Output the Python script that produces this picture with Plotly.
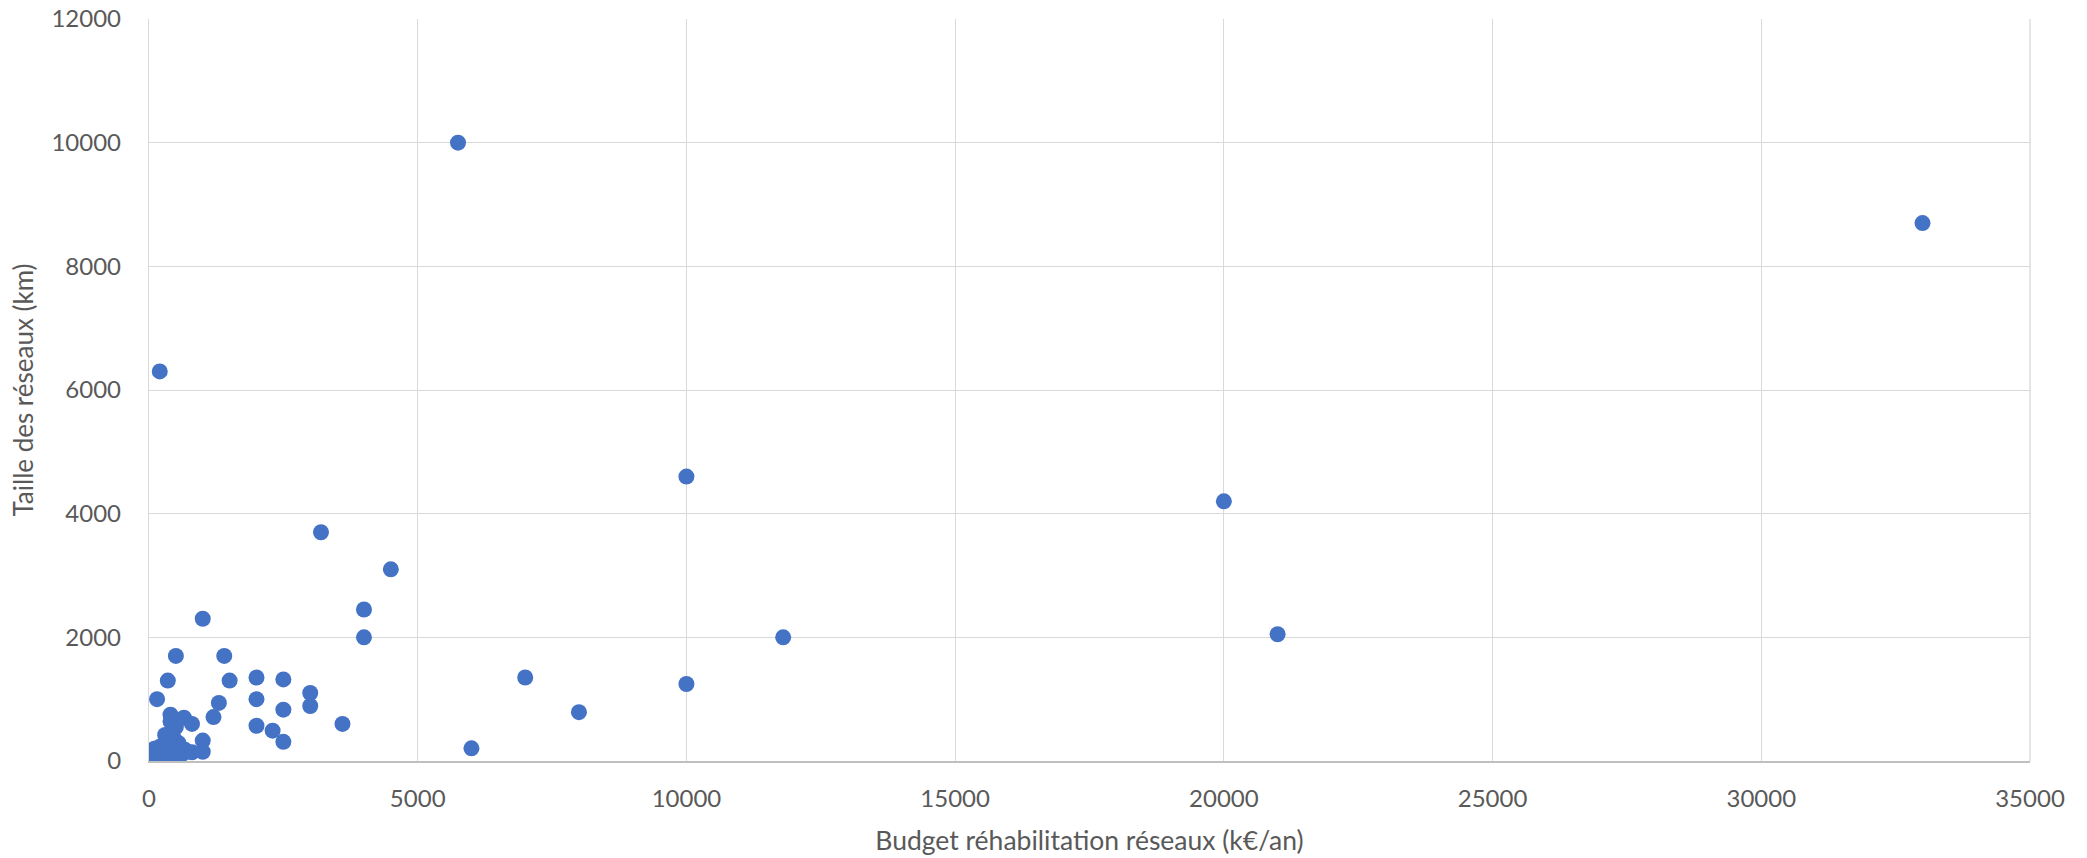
import plotly.graph_objects as go

budget = [50, 100, 150, 150, 200, 200, 250, 300, 300, 350, 360, 400, 400, 420, 450, 450,
          485, 500, 500, 520, 550, 580, 600, 650, 670, 700, 800, 800, 1000, 1000, 1000,
          1200, 1300, 1400, 1500, 2000, 2000, 2000, 2300, 2500, 2500, 2500, 3000, 3000,
          3200, 3600, 4000, 4000, 4500, 5750, 6000, 7000, 8000, 10000, 10000, 11800,
          20000, 21000, 33000]
taille = [100, 200, 1000, 120, 6300, 230, 100, 420, 60, 1300, 180, 750, 640, 150, 390, 60,
          100, 1700, 550, 130, 290, 220, 100, 700, 180, 150, 600, 140, 2300, 330, 150,
          710, 940, 1700, 1300, 1350, 1000, 570, 490, 1320, 830, 310, 1100, 890,
          3700, 600, 2450, 2000, 3100, 10000, 205, 1350, 790, 4600, 1245, 2000,
          4200, 2050, 8700]

x_title = "Budget réhabilitation réseaux (k€/an)"
y_title = "Taille des réseaux (km)"

font_family = "Lato, 'Open Sans', sans-serif"
text_color = "#595959"

fig = go.Figure()
fig.add_trace(go.Scatter(
    x=budget, y=taille, mode="markers",
    marker=dict(size=16, color="#4472C4", line=dict(width=0)),
    showlegend=False,
))

fig.update_layout(
    width=2087, height=858,
    margin=dict(l=149, r=57, t=19, b=97),
    paper_bgcolor="white", plot_bgcolor="white",
    font=dict(family=font_family, color=text_color, size=23),
    xaxis=dict(
        range=[0, 35000], dtick=5000, tick0=0, tickformat="d",
        showgrid=True, gridcolor="#D9D9D9", gridwidth=1.3,
        showline=True, linecolor="#BFBFBF", linewidth=1.5,
        zeroline=False, ticks="", ticklabelstandoff=15, automargin=False,
        ticklabeloverflow="allow",
        tickfont=dict(size=24, color=text_color),
        title=dict(text=x_title, font=dict(size=26.5, color=text_color), standoff=21),
    ),
    yaxis=dict(
        range=[0, 12000], dtick=2000, tick0=0, tickformat="d",
        showgrid=True, gridcolor="#D9D9D9", gridwidth=1.3,
        showline=True, linecolor="#D9D9D9", linewidth=1.3,
        zeroline=False, ticks="", ticklabelstandoff=22, automargin=False,
        ticklabeloverflow="allow",
        tickfont=dict(size=24, color=text_color),
        title=dict(text=y_title, font=dict(size=26, color=text_color), standoff=10),
    ),
)
fig.add_shape(type="line", xref="paper", yref="paper", x0=1, x1=1, y0=0, y1=1,
              line=dict(color="#D9D9D9", width=1.3), layer="below")

fig.write_html("out.html",
               config={"displayModeBar": False},
               post_script="document.body.style.margin='0';document.body.style.overflow='hidden';")
